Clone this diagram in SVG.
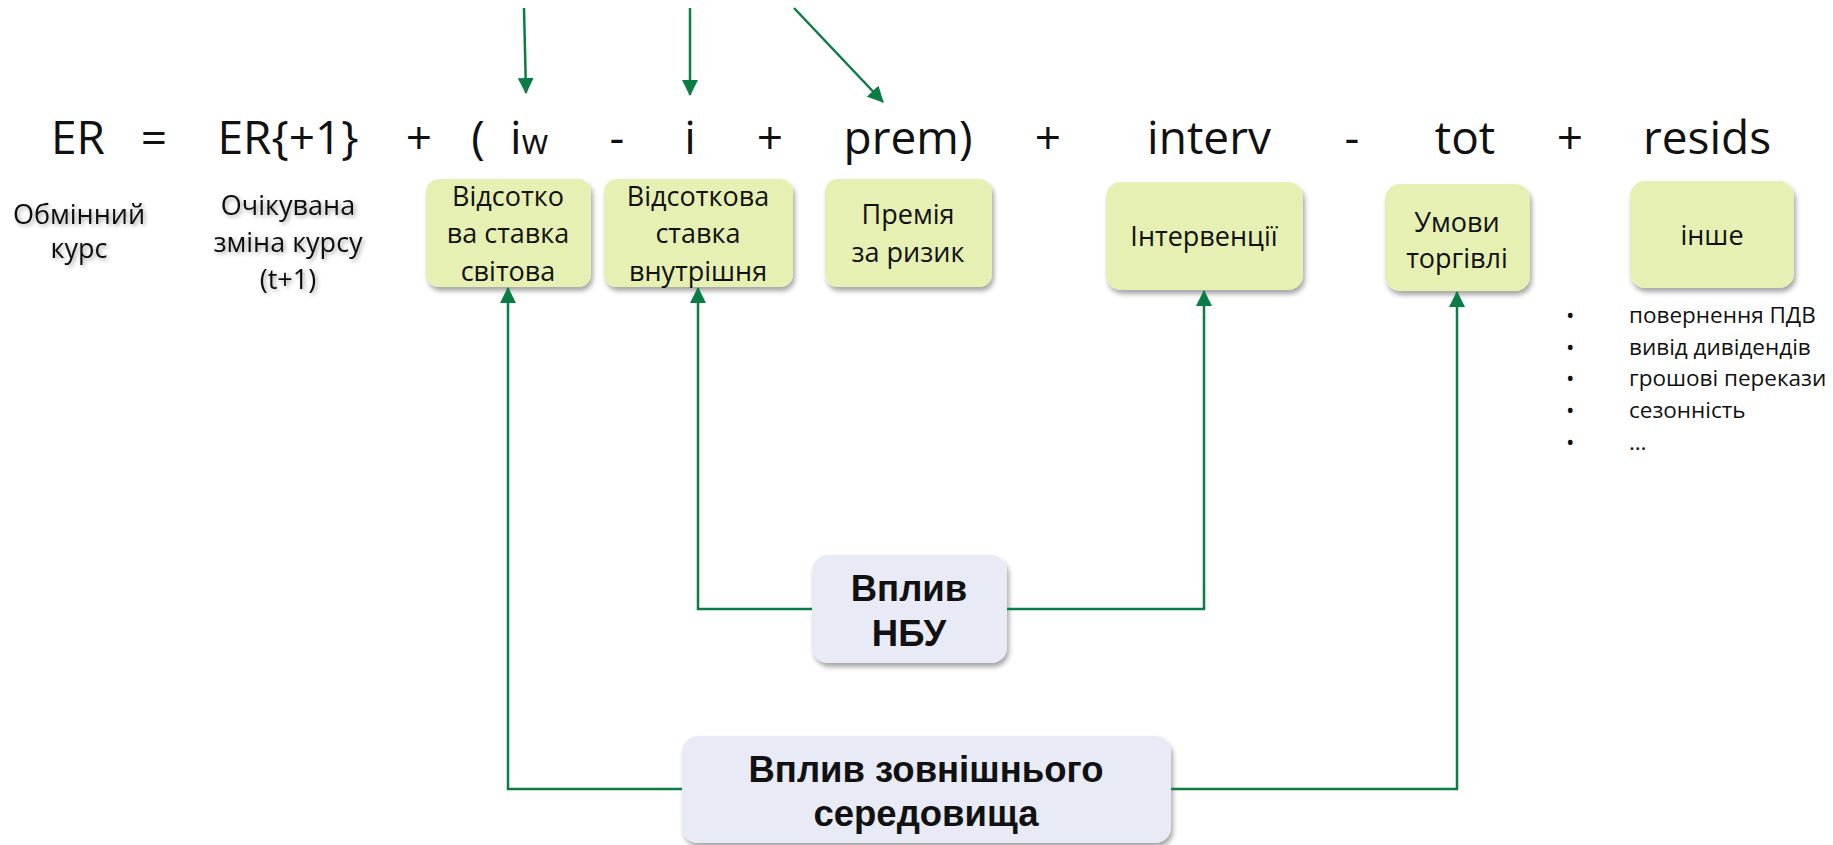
<svg xmlns="http://www.w3.org/2000/svg" width="1833" height="845" viewBox="0 0 1833 845">
<style>
.eq{font-family:"Open Sans","Noto Sans",sans-serif;font-size:46px;fill:#111;text-anchor:middle}
.lbl{font-family:"Open Sans","Noto Sans",sans-serif;font-size:27px;fill:#111;text-anchor:middle}
.bx{fill:#e7f0b3;filter:url(#sh)}
.bb{fill:#e8eaf5;filter:url(#sh)}
.bt{font-family:"Liberation Sans",Arial,sans-serif;font-size:36.5px;font-weight:bold;fill:#111;text-anchor:middle}
.li{font-family:"Open Sans","Noto Sans",sans-serif;font-size:22.5px;fill:#111}
.ln{fill:none;stroke:#0a7d45;stroke-width:2.5}
</style>
<defs>
<filter id="sh" x="-20%" y="-20%" width="140%" height="150%">
<feDropShadow dx="2" dy="4" stdDeviation="2.5" flood-color="#000" flood-opacity="0.35"/>
</filter>
<filter id="ts" x="-20%" y="-30%" width="140%" height="160%">
<feDropShadow dx="2" dy="2" stdDeviation="2" flood-color="#000" flood-opacity="0.35"/>
</filter>
<marker id="ah" markerWidth="16" markerHeight="16" refX="15" refY="8" orient="auto" markerUnits="userSpaceOnUse">
<path d="M0,0 L16,8 L0,16 Z" fill="#0a7d45"/>
</marker>
</defs>

<g id="equation">
<text class="eq" x="78" y="154">ER</text>
<text class="eq" x="154" y="154">=</text>
<text class="eq" x="288" y="154">ER{+1}</text>
<text class="eq" x="419" y="154">+</text>
<text class="eq" x="478" y="154">(</text>
<text class="eq" x="510" y="154" style="text-anchor:start">i<tspan font-size="34">w</tspan></text>
<text class="eq" x="617" y="154">-</text>
<text class="eq" x="690" y="154">i</text>
<text class="eq" x="770" y="154">+</text>
<text class="eq" x="908" y="154">prem)</text>
<text class="eq" x="1048" y="154">+</text>
<text class="eq" x="1209" y="154">interv</text>
<text class="eq" x="1352" y="154">-</text>
<text class="eq" x="1465" y="154">tot</text>
<text class="eq" x="1570" y="154">+</text>
<text class="eq" x="1707" y="154">resids</text>
</g>

<g id="obminnyi" filter="url(#ts)">
<text class="lbl" x="79" y="224">Обмінний</text>
<text class="lbl" x="79" y="258">курс</text>
</g>
<g id="ochikuvana" filter="url(#ts)">
<text class="lbl" x="288" y="215">Очікувана</text>
<text class="lbl" x="288" y="252">зміна курсу</text>
<text class="lbl" x="288" y="289">(t+1)</text>
</g>

<g id="box-svitova">
<rect class="bx" x="426" y="179" width="165" height="108" rx="13"/>
<text class="lbl" x="508" y="206">Відсотко</text>
<text class="lbl" x="508" y="243">ва ставка</text>
<text class="lbl" x="508" y="281">світова</text>
</g>
<g id="box-vnutrishnia">
<rect class="bx" x="604" y="179" width="189" height="108" rx="13"/>
<text class="lbl" x="698" y="206">Відсоткова</text>
<text class="lbl" x="698" y="243">ставка</text>
<text class="lbl" x="698" y="281">внутрішня</text>
</g>
<g id="box-premiia">
<rect class="bx" x="825" y="179" width="167" height="108" rx="13"/>
<text class="lbl" x="908" y="224">Премія</text>
<text class="lbl" x="908" y="262">за ризик</text>
</g>
<g id="box-interventsii">
<rect class="bx" x="1106" y="182" width="197" height="108" rx="15"/>
<text class="lbl" x="1204" y="246">Інтервенції</text>
</g>
<g id="box-umovy">
<rect class="bx" x="1385" y="184" width="145" height="107" rx="15"/>
<text class="lbl" x="1457" y="232">Умови</text>
<text class="lbl" x="1457" y="268">торгівлі</text>
</g>
<g id="box-inshe">
<rect class="bx" x="1630" y="181" width="164" height="107" rx="15"/>
<text class="lbl" x="1712" y="245">інше</text>
</g>

<g id="list">
<text class="li" x="1566" y="323">•</text>
<text class="li" x="1629" y="323">повернення ПДВ</text>
<text class="li" x="1566" y="355">•</text>
<text class="li" x="1629" y="355">вивід дивідендів</text>
<text class="li" x="1566" y="386">•</text>
<text class="li" x="1629" y="386">грошові перекази</text>
<text class="li" x="1566" y="418">•</text>
<text class="li" x="1629" y="418">сезонність</text>
<text class="li" x="1566" y="450">•</text>
<text class="li" x="1629" y="450">…</text>
</g>

<g id="box-nbu">
<rect class="bb" x="812" y="555" width="195" height="108" rx="16"/>
<text class="bt" x="909" y="601">Вплив</text>
<text class="bt" x="909" y="646">НБУ</text>
</g>
<g id="box-zovnishnie">
<rect class="bb" x="682" y="736" width="489" height="107" rx="16"/>
<text class="bt" x="926" y="782">Вплив зовнішнього</text>
<text class="bt" x="926" y="826">середовища</text>
</g>

<g id="connectors">
<line class="ln" x1="524" y1="8" x2="526" y2="93" marker-end="url(#ah)"/>
<line class="ln" x1="690" y1="8" x2="690" y2="95" marker-end="url(#ah)"/>
<line class="ln" x1="794" y1="8" x2="883" y2="102" marker-end="url(#ah)"/>
<polyline class="ln" points="812,609 698,609 698,288" marker-end="url(#ah)"/>
<polyline class="ln" points="1007,609 1204,609 1204,291" marker-end="url(#ah)"/>
<polyline class="ln" points="682,789 508,789 508,288" marker-end="url(#ah)"/>
<polyline class="ln" points="1171,789 1457,789 1457,292" marker-end="url(#ah)"/>
</g>
</svg>
